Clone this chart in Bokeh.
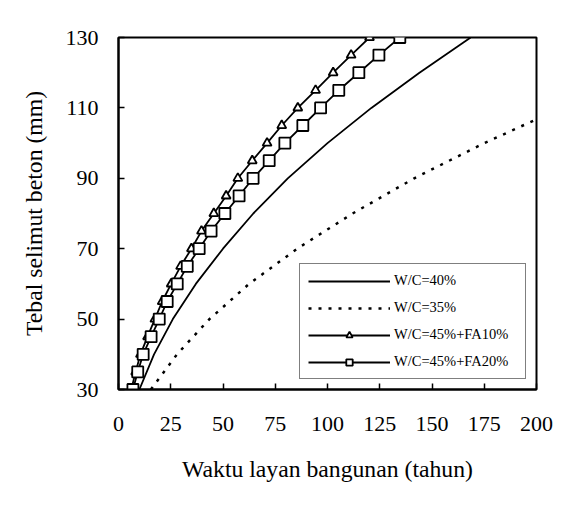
from bokeh.plotting import figure
from bokeh.models import Range1d, FixedTicker, Legend, LegendItem
from bokeh.embed import file_html
from bokeh.resources import INLINE

# ---- data ----
cover_10 = [30, 40, 50, 60, 70, 80, 90, 100, 110, 120, 130]
wc40_years = [10, 17, 26, 37, 50, 64.5, 81, 100, 121, 144, 168.5]
wc35_years = [15.5, 28, 43.5, 62.5, 85.5, 112, 141.5, 175, 212, 252, 296]

cover_5 = [30, 35, 40, 45, 50, 55, 60, 65, 70, 75, 80, 85, 90, 95, 100,
           105, 110, 115, 120, 125, 130]
fa10_years = [6.1, 8.2, 10.5, 13.9, 17.4, 20.9, 25.2, 29.7, 34.9, 39.7, 45.6,
              51.5, 57.1, 64.0, 71.1, 78.1, 85.8, 94.3, 102.7, 111.3, 120.1]
fa20_years = [6.9, 9.2, 11.8, 15.6, 19.5, 23.3, 28.1, 32.9, 38.6, 44.3, 50.9,
              57.7, 64.4, 72.1, 79.6, 88.2, 96.7, 105.4, 115.0, 124.6, 134.6]

labels = ["W/C=40%", "W/C=35%", "W/C=45%+FA10%", "W/C=45%+FA20%"]
x_ticks = [0, 25, 50, 75, 100, 125, 150, 175, 200]
y_ticks = [30, 50, 70, 90, 110, 130]

FONT = "Liberation Serif"

p = figure(width=555, height=489, output_backend="svg", toolbar_location=None,
           x_range=Range1d(0, 200), y_range=Range1d(30, 130),
           min_border_left=118, min_border_right=19,
           min_border_top=37, min_border_bottom=100)

p.grid.visible = False
p.outline_line_color = "black"
p.outline_line_width = 2
p.background_fill_color = "white"
p.border_fill_color = "white"

for ax in (p.xaxis[0], p.yaxis[0]):
    ax.axis_line_color = "black"
    ax.axis_line_width = 2
    ax.major_tick_in = 6
    ax.major_tick_out = 0
    ax.major_tick_line_width = 1.5
    ax.major_tick_line_color = "black"
    ax.minor_tick_line_color = None
    ax.major_label_text_font = FONT
    ax.major_label_text_font_size = "22px"
    ax.major_label_text_color = "black"
    ax.axis_label_text_font = FONT
    ax.axis_label_text_font_size = "23.7px"
    ax.axis_label_text_font_style = "normal"
    ax.axis_label_text_color = "black"

p.xaxis[0].ticker = FixedTicker(ticks=x_ticks)
p.yaxis[0].ticker = FixedTicker(ticks=y_ticks)
p.xaxis[0].axis_label = "Waktu layan bangunan (tahun)"
p.yaxis[0].axis_label = "Tebal selimut beton (mm)"
p.xaxis[0].major_label_standoff = 27
p.yaxis[0].major_label_standoff = 20
p.xaxis[0].axis_label_standoff = 22
p.yaxis[0].axis_label_standoff = 16

r40 = p.line(wc40_years, cover_10, line_color="black", line_width=1.8)
r35 = p.line(wc35_years, cover_10, line_color="black", line_width=2.5,
             line_dash="3 7")
r10l = p.line(fa10_years, cover_5, line_color="black", line_width=1.8)
r10m = p.scatter(fa10_years, cover_5, marker="triangle", size=9,
                 line_color="black", line_width=1.8, fill_color="white")
r20l = p.line(fa20_years, cover_5, line_color="black", line_width=1.8)
r20m = p.scatter(fa20_years, cover_5, marker="square", size=11,
                 line_color="black", line_width=1.8, fill_color="white")

legend = Legend(items=[
    LegendItem(label=labels[0], renderers=[r40]),
    LegendItem(label=labels[1], renderers=[r35]),
    LegendItem(label=labels[2], renderers=[r10l, r10m]),
    LegendItem(label=labels[3], renderers=[r20l, r20m]),
], location="bottom_right")
legend.margin = 10
legend.padding = 8
legend.spacing = 10
legend.glyph_width = 82
legend.glyph_height = 16
legend.label_height = 16
legend.label_width = 123
legend.label_standoff = 4
legend.label_text_font = FONT
legend.label_text_font_size = "14.5px"
legend.label_text_color = "black"
legend.border_line_color = "black"
legend.border_line_width = 1.5
legend.background_fill_color = "white"
legend.background_fill_alpha = 1
p.add_layout(legend)

open("out.html", "w").write(file_html(p, INLINE))
